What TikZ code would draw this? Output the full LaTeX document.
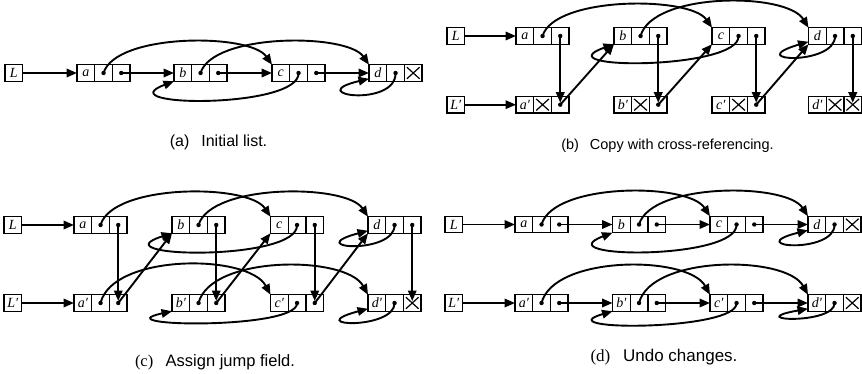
\documentclass[tikz,border=0pt]{standalone}
\usepackage{fontspec}
\setmainfont{Liberation Serif}
\newfontfamily\capsans{Liberation Sans}
\usetikzlibrary{arrows.meta,calc}

\tikzset{
  cell/.style={draw, line width=1.4pt, minimum width=17.7pt, minimum height=16.5pt,
    inner sep=0pt, outer sep=0pt, anchor=west,
    font=\fontsize{14}{14}\selectfont\itshape},
  ptr/.style={line width=1.9pt, -{Triangle[length=10.5pt,width=8.5pt]}},
  xmark/.style={line width=1.2pt},
  captext/.style={font=\capsans, inner sep=0pt, anchor=base},
}

% list node: three cells #1-l (label), #1-j (jump), #1-n (next)
\newcommand{\lnode}[4]{%
  \node[cell] (#1-l) at (#2,#3) {#4};
  \node[cell] (#1-j) at (#1-l.east) {};
  \node[cell] (#1-n) at (#1-j.east) {};
}
\newcommand{\pdot}[1]{\fill (#1.center) circle (2.2pt);}
\newcommand{\nullx}[1]{\draw[xmark] ($(#1.south west)+(2.5pt,2.5pt)$) -- ($(#1.north east)+(-2.5pt,-2.5pt)$)
  ($(#1.north west)+(2.5pt,-2.5pt)$) -- ($(#1.south east)+(-2.5pt,2.5pt)$);}
% forward jump arc over the top
\newcommand{\fwd}[3]{\draw[ptr] (#1.center) .. controls +(12pt,#3) and +(-22pt,{#3-8.25pt}) .. (#2.north west);}
% backward jump loop underneath: from, to, d1, dx, d2
\newcommand{\back}[5]{\draw[ptr] (#1.center) .. controls +(1.5pt,-#3) and +(-#4,-#5) .. (#2.south west);}
% self loop: node, d1, d2
\newcommand{\selfloop}[3]{\draw[ptr] (#1-j.center) .. controls +(0.5pt,-#2) and +(-68pt,-#3) .. ($(#1-l.south west)+(0,2.5pt)$);}

\begin{document}
\begin{tikzpicture}[x=1pt,y=-1pt]
\useasboundingbox (0,0) rectangle (862,374);

% ---------------- (a) ----------------
\node[cell] (pa-L) at (5,73) {L};
\lnode{pa-a}{77}{73}{a}
\lnode{pa-b}{174}{73}{b}
\lnode{pa-c}{272}{73}{c}
\lnode{pa-d}{369}{73}{d}
\pdot{pa-a-j}\pdot{pa-a-n}\pdot{pa-b-j}\pdot{pa-b-n}\pdot{pa-c-j}\pdot{pa-c-n}\pdot{pa-d-j}
\nullx{pa-d-n}
\draw[ptr] (pa-L) -- (pa-a-l);
\draw[ptr] (pa-a-n.center) -- (pa-b-l.west);
\draw[ptr] (pa-b-n.center) -- (pa-c-l.west);
\draw[ptr] (pa-c-n.center) -- (pa-d-l.west);
\fwd{pa-a-j}{pa-c-l}{40pt}
\fwd{pa-b-j}{pa-d-l}{40pt}
\back{pa-c-j}{pa-b-l}{36pt}{69pt}{26pt}
\selfloop{pa-d}{35pt}{16pt}
\node[captext,font=\capsans\fontsize{16}{18}\selectfont] (capa) at (218.5,147) {(a)\hspace{0.75em}Initial list.};

% ---------------- (b) ----------------
\node[cell] (pb-L) at (447,36) {L};
\node[cell] (pb-Lp) at (447,104.7) {L′};
\lnode{pb-a}{516}{36}{a}
\lnode{pb-b}{614}{36}{b}
\lnode{pb-c}{712}{36}{c}
\lnode{pb-d}{808.5}{36}{d}
\lnode{pb-ap}{516}{104.7}{a′}
\lnode{pb-bp}{614}{104.7}{b′}
\lnode{pb-cp}{712}{104.7}{c′}
\lnode{pb-dp}{808.5}{104.7}{d′}
\pdot{pb-a-j}\pdot{pb-a-n}\pdot{pb-b-j}\pdot{pb-b-n}\pdot{pb-c-j}\pdot{pb-c-n}\pdot{pb-d-j}\pdot{pb-d-n}
\pdot{pb-ap-n}\pdot{pb-bp-n}\pdot{pb-cp-n}
\nullx{pb-ap-j}\nullx{pb-bp-j}\nullx{pb-cp-j}\nullx{pb-dp-j}\nullx{pb-dp-n}
\draw[ptr] (pb-L) -- (pb-a-l);
\draw[ptr] (pb-Lp) -- (pb-ap-l);
\draw[ptr] (pb-a-n.center) -- ($(pb-ap-n.center)+(0,2pt)$);
\draw[ptr] (pb-b-n.center) -- ($(pb-bp-n.center)+(0,2pt)$);
\draw[ptr] (pb-c-n.center) -- ($(pb-cp-n.center)+(0,2pt)$);
\draw[ptr] (pb-d-n.center) -- ($(pb-dp-n.center)+(0,2pt)$);
\draw[ptr] (pb-ap-n.center) -- (pb-b-l.south west);
\draw[ptr] (pb-bp-n.center) -- (pb-c-l.south west);
\draw[ptr] (pb-cp-n.center) -- (pb-d-l.south west);
\fwd{pb-a-j}{pb-c-l}{40pt}
\fwd{pb-b-j}{pb-d-l}{44pt}
\back{pb-c-j}{pb-b-l}{34pt}{74pt}{26pt}
\selfloop{pb-d}{30pt}{20pt}
\node[captext,font=\capsans\fontsize{14.5}{17}\selectfont] (capb) at (667.5,150) {(b)\hspace{0.75em}Copy with cross-referencing.};

% ---------------- (c) ----------------
\node[cell] (pc-L) at (4,225) {L};
\node[cell] (pc-Lp) at (4,303) {L′};
\lnode{pc-a}{74}{225}{a}
\lnode{pc-b}{172}{225}{b}
\lnode{pc-c}{270.5}{225}{c}
\lnode{pc-d}{368}{225}{d}
\lnode{pc-ap}{74}{303}{a′}
\lnode{pc-bp}{172}{303}{b′}
\lnode{pc-cp}{270.5}{303}{c′}
\lnode{pc-dp}{368}{303}{d′}
\pdot{pc-a-j}\pdot{pc-a-n}\pdot{pc-b-j}\pdot{pc-b-n}\pdot{pc-c-j}\pdot{pc-c-n}\pdot{pc-d-j}\pdot{pc-d-n}
\pdot{pc-ap-j}\pdot{pc-ap-n}\pdot{pc-bp-j}\pdot{pc-bp-n}\pdot{pc-cp-j}\pdot{pc-cp-n}\pdot{pc-dp-j}
\nullx{pc-dp-n}
\draw[ptr] (pc-L) -- (pc-a-l);
\draw[ptr] (pc-Lp) -- (pc-ap-l);
\draw[ptr] (pc-a-n.center) -- ($(pc-ap-n.center)+(0,2pt)$);
\draw[ptr] (pc-b-n.center) -- ($(pc-bp-n.center)+(0,2pt)$);
\draw[ptr] (pc-c-n.center) -- ($(pc-cp-n.center)+(0,2pt)$);
\draw[ptr] (pc-d-n.center) -- ($(pc-dp-n.center)+(0,2pt)$);
\draw[ptr] (pc-ap-n.center) -- (pc-b-l.south west);
\draw[ptr] (pc-bp-n.center) -- (pc-c-l.south west);
\draw[ptr] (pc-cp-n.center) -- (pc-d-l.south west);
\fwd{pc-a-j}{pc-c-l}{41.5pt}
\fwd{pc-b-j}{pc-d-l}{41.5pt}
\back{pc-c-j}{pc-b-l}{37pt}{77pt}{24.5pt}
\selfloop{pc-d}{30pt}{18pt}
\fwd{pc-ap-j}{pc-cp-l}{49.5pt}
\fwd{pc-bp-j}{pc-dp-l}{48pt}
\back{pc-cp-j}{pc-bp-l}{27pt}{72pt}{15.5pt}
\selfloop{pc-dp}{27pt}{18pt}
\node[captext,font=\capsans\fontsize{16.5}{19}\selectfont] (capc) at (215,366) {{\rmfamily(c)}\hspace{0.75em}Assign jump field.};

% ---------------- (d) ----------------
\node[cell] (pd-L) at (445,224.5) {L};
\node[cell] (pd-Lp) at (445,303) {L′};
\lnode{pd-a}{515}{224.5}{a}
\lnode{pd-b}{612.5}{224.5}{b}
\lnode{pd-c}{710}{224.5}{c}
\lnode{pd-d}{808}{224.5}{d}
\lnode{pd-ap}{515}{303}{a′}
\lnode{pd-bp}{612.5}{303}{b′}
\lnode{pd-cp}{710}{303}{c′}
\lnode{pd-dp}{808}{303}{d′}
\pdot{pd-a-j}\pdot{pd-a-n}\pdot{pd-b-j}\pdot{pd-b-n}\pdot{pd-c-j}\pdot{pd-c-n}\pdot{pd-d-j}
\pdot{pd-ap-j}\pdot{pd-ap-n}\pdot{pd-bp-j}\pdot{pd-bp-n}\pdot{pd-cp-j}\pdot{pd-cp-n}\pdot{pd-dp-j}
\nullx{pd-d-n}\nullx{pd-dp-n}
\draw[ptr] (pd-L) -- (pd-a-l);
\draw[ptr] (pd-a-n.center) -- (pd-b-l.west);
\draw[ptr] (pd-b-n.center) -- (pd-c-l.west);
\draw[ptr] (pd-c-n.center) -- (pd-d-l.west);
\draw[ptr] (pd-Lp) -- (pd-ap-l);
\draw[ptr] (pd-ap-n.center) -- (pd-bp-l.west);
\draw[ptr] (pd-bp-n.center) -- (pd-cp-l.west);
\draw[ptr] (pd-cp-n.center) -- (pd-dp-l.west);
\fwd{pd-a-j}{pd-c-l}{42pt}
\fwd{pd-b-j}{pd-d-l}{42pt}
\back{pd-c-j}{pd-b-l}{36pt}{69pt}{26pt}
\selfloop{pd-d}{30pt}{17pt}
\fwd{pd-ap-j}{pd-cp-l}{48pt}
\fwd{pd-bp-j}{pd-dp-l}{48pt}
\back{pd-cp-j}{pd-bp-l}{28pt}{69pt}{20pt}
\selfloop{pd-dp}{22pt}{12pt}
\node[captext,font=\capsans\fontsize{17}{19}\selectfont] (capd) at (664,361) {{\rmfamily(d)}\hspace{0.75em}Undo changes.};
\end{tikzpicture}
\end{document}
